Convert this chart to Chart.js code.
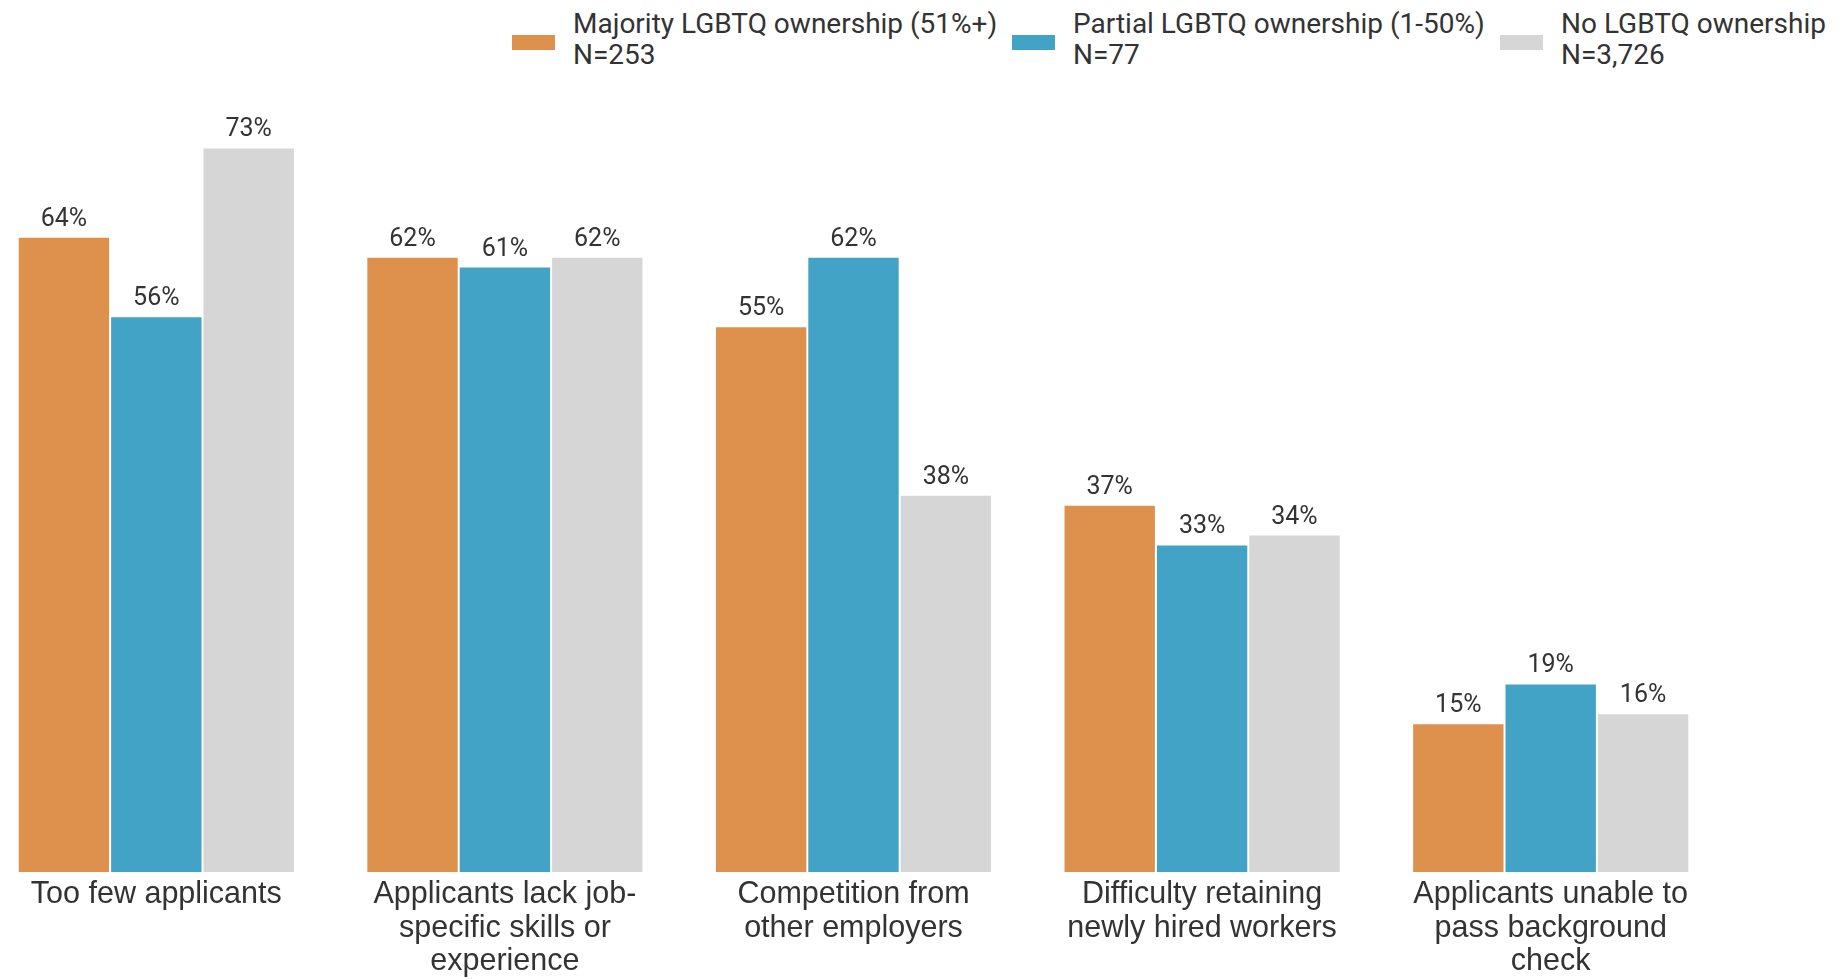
<!DOCTYPE html>
<html>
<head>
<meta charset="utf-8">
<script src="https://cdn.jsdelivr.net/npm/chart.js@4.4.1/dist/chart.umd.min.js"></script>
<style>
  html, body { margin: 0; padding: 0; background: #fff; overflow: hidden; }
  body { width: 1845px; height: 980px; position: relative; font-family: Roboto, sans-serif; color: #333; }
  #wrap { position: absolute; left: -18px; top: 0; width: 1743px; height: 980px; }
  .swatch { position: absolute; top: 35px; width: 43px; height: 15px; }
  .legend-text { position: absolute; top: 8px; font-size: 28px; line-height: 31px; white-space: nowrap; }
</style>
</head>
<body>
<div id="legend"></div>
<div id="wrap"><canvas id="chart" width="1743" height="980"></canvas></div>
<script>
const categories = [
  ['Too few applicants'],
  ['Applicants lack job-', 'specific skills or', 'experience'],
  ['Competition from', 'other employers'],
  ['Difficulty retaining', 'newly hired workers'],
  ['Applicants unable to', 'pass background', 'check']
];
const seriesNames = ['Majority LGBTQ ownership (51%+)', 'Partial LGBTQ ownership (1-50%)', 'No LGBTQ ownership'];
const seriesN = ['N=253', 'N=77', 'N=3,726'];
const majority = [64, 62, 55, 37, 15];
const partial = [56, 61, 62, 33, 19];
const none = [73, 62, 38, 34, 16];
const seriesColors = ['#de904d', '#42a3c6', '#d6d6d6'];
const legendLeft = [512, 1012, 1500];

const textColor = '#333333';

function renderLegend() {
  const element = document.querySelector('#legend');
  element.innerHTML = seriesNames
    .map((name, i) => `
      <div class="swatch" style="left:${legendLeft[i]}px;background:${seriesColors[i]}"></div>
      <div class="legend-text" style="left:${legendLeft[i] + 61}px">${name}<br>${seriesN[i]}</div>
    `)
    .join('');
}

const valueLabels = {
  id: 'valueLabels',
  afterDatasetsDraw(chart) {
    const { ctx } = chart;
    ctx.save();
    ctx.font = '25px Roboto';
    ctx.fillStyle = textColor;
    ctx.textAlign = 'center';
    ctx.textBaseline = 'alphabetic';
    chart.data.datasets.forEach((dataset, i) => {
      chart.getDatasetMeta(i).data.forEach((bar, j) => {
        ctx.fillText(`${dataset.data[j]}%`, bar.x, bar.y - 11);
      });
    });
    ctx.restore();
  }
};

function createChart() {
  const values = [majority, partial, none];
  new Chart(document.querySelector('#chart'), {
    type: 'bar',
    data: {
      labels: categories,
      datasets: seriesNames.map((name, i) => ({
        label: name,
        data: values[i],
        backgroundColor: seriesColors[i],
        borderColor: 'rgba(255,255,255,0.35)',
        borderWidth: 1,
        categoryPercentage: 0.795,
        barPercentage: 1
      }))
    },
    options: {
      responsive: false,
      animation: false,
      layout: { padding: { top: 80, left: 0, right: 0, bottom: 0 } },
      plugins: { legend: { display: false }, tooltip: { enabled: false } },
      scales: {
        x: {
          grid: { display: false, drawTicks: false },
          border: { display: false },
          ticks: { color: textColor, font: { family: "'Liberation Sans', Arial, sans-serif", size: 30.5, lineHeight: 1.1 }, padding: 6, maxRotation: 0, autoSkip: false },
          afterFit(scale) { scale.height = 108; }
        },
        y: { display: false, min: 0, max: 79.8 }
      }
    },
    plugins: [valueLabels]
  });
}

renderLegend();
createChart();
</script>
</body>
</html>
